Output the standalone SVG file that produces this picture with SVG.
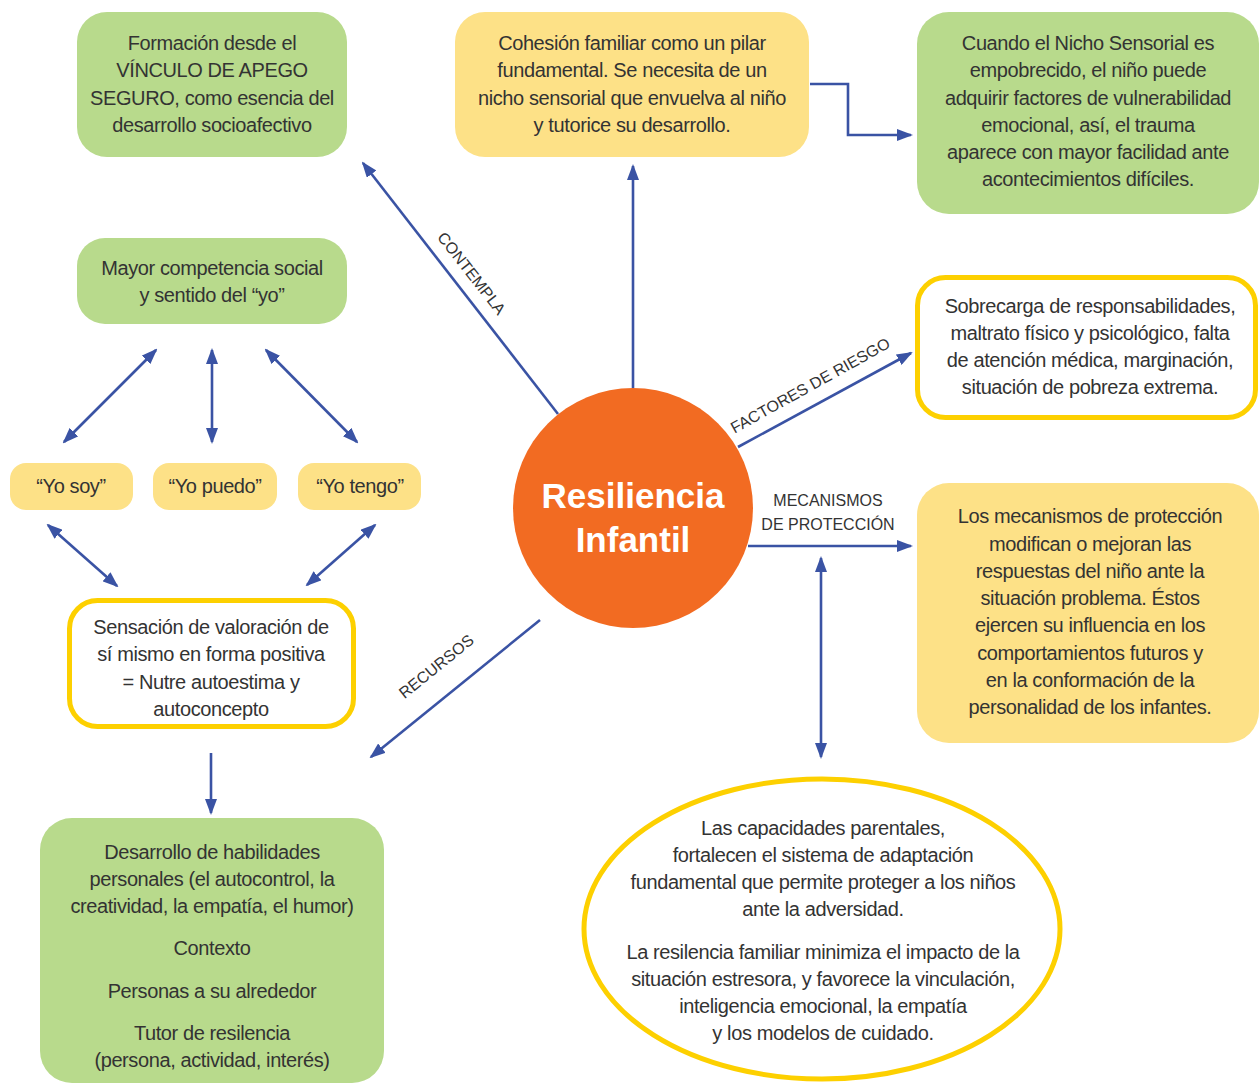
<svg xmlns="http://www.w3.org/2000/svg" width="1260" height="1083" viewBox="0 0 1260 1083">
  <style>
    .t { font-family: "Liberation Sans", Arial, sans-serif; font-size: 20px; letter-spacing: -0.4px; fill: #333333; text-anchor: middle; }
    .lbl { font-family: "Liberation Sans", Arial, sans-serif; font-size: 16px; fill: #333333; text-anchor: middle; }
    .green { fill: #b8da8c; }
    .yellow { fill: #fde187; }
    .outline { fill: #ffffff; stroke: #fdd000; stroke-width: 5; }
    .conn { stroke: #3a53a4; stroke-width: 2.6; fill: none; }
    .title { font-family: "Liberation Sans", Arial, sans-serif; font-size: 35px; font-weight: bold; fill: #ffffff; text-anchor: middle; }
  </style>
  <defs>
    <marker id="ah" viewBox="0 0 16 12" refX="14" refY="6" markerWidth="16" markerHeight="12" markerUnits="userSpaceOnUse" orient="auto-start-reverse">
      <path d="M0,0 L16,6 L0,12 z" fill="#3a53a4"/>
    </marker>
  </defs>
  <rect width="1260" height="1083" fill="#ffffff"/>

  <!-- connectors -->
  <g id="connectors">
    <line class="conn" x1="558" y1="414" x2="363" y2="163" marker-end="url(#ah)"/>
    <line class="conn" x1="633" y1="388" x2="633" y2="166" marker-end="url(#ah)"/>
    <polyline class="conn" points="810,84 848,84 848,135 911,135" marker-end="url(#ah)"/>
    <line class="conn" x1="738" y1="447" x2="911" y2="353" marker-end="url(#ah)"/>
    <line class="conn" x1="748" y1="546" x2="911" y2="546" marker-end="url(#ah)"/>
    <line class="conn" x1="821" y1="558" x2="821" y2="757" marker-start="url(#ah)" marker-end="url(#ah)"/>
    <line class="conn" x1="540" y1="620" x2="371" y2="757" marker-end="url(#ah)"/>
    <line class="conn" x1="211" y1="753" x2="211" y2="813" marker-end="url(#ah)"/>
    <line class="conn" x1="156" y1="350" x2="64" y2="442" marker-start="url(#ah)" marker-end="url(#ah)"/>
    <line class="conn" x1="212" y1="350" x2="212" y2="442" marker-start="url(#ah)" marker-end="url(#ah)"/>
    <line class="conn" x1="266" y1="350" x2="357" y2="442" marker-start="url(#ah)" marker-end="url(#ah)"/>
    <line class="conn" x1="48" y1="525" x2="117" y2="586" marker-start="url(#ah)" marker-end="url(#ah)"/>
    <line class="conn" x1="375" y1="525" x2="307" y2="585" marker-start="url(#ah)" marker-end="url(#ah)"/>

    <text class="lbl" transform="translate(472,273) rotate(52)" y="6">CONTEMPLA</text>
    <text class="lbl" transform="translate(810,385) rotate(-29)" y="6">FACTORES DE RIESGO</text>
    <text class="lbl" x="828" y="506">MECANISMOS</text>
    <text class="lbl" x="828" y="530">DE PROTECCIÓN</text>
    <text class="lbl" transform="translate(436,666) rotate(-39)" y="6">RECURSOS</text>
  </g>

  <!-- central node -->
  <g id="resiliencia">
    <circle cx="633" cy="508" r="120" fill="#f26b22"/>
    <text class="title" x="633" y="508">Resiliencia</text>
    <text class="title" x="633" y="552">Infantil</text>
  </g>

  <g id="vinculo">
    <rect class="green" x="77" y="12" width="270" height="145" rx="30"/>
    <text class="t" x="212" y="50">Formación desde el</text>
    <text class="t" x="212" y="77">VÍNCULO DE APEGO</text>
    <text class="t" x="212" y="105">SEGURO, como esencia del</text>
    <text class="t" x="212" y="132">desarrollo socioafectivo</text>
  </g>

  <g id="cohesion">
    <rect class="yellow" x="455" y="12" width="354" height="145" rx="30"/>
    <text class="t" x="632" y="50">Cohesión familiar como un pilar</text>
    <text class="t" x="632" y="77">fundamental. Se necesita de un</text>
    <text class="t" x="632" y="105">nicho sensorial que envuelva al niño</text>
    <text class="t" x="632" y="132">y tutorice su desarrollo.</text>
  </g>

  <g id="nicho">
    <rect class="green" x="917" y="12" width="342" height="202" rx="32"/>
    <text class="t" x="1088" y="50">Cuando el Nicho Sensorial es</text>
    <text class="t" x="1088" y="77">empobrecido, el niño puede</text>
    <text class="t" x="1088" y="105">adquirir factores de vulnerabilidad</text>
    <text class="t" x="1088" y="132">emocional, así, el trauma</text>
    <text class="t" x="1088" y="159">aparece con mayor facilidad ante</text>
    <text class="t" x="1088" y="186">acontecimientos difíciles.</text>
  </g>

  <g id="riesgo">
    <rect class="outline" x="917.5" y="277.5" width="338" height="140" rx="28"/>
    <text class="t" x="1090" y="313">Sobrecarga de responsabilidades,</text>
    <text class="t" x="1090" y="340">maltrato físico y psicológico, falta</text>
    <text class="t" x="1090" y="367">de atención médica, marginación,</text>
    <text class="t" x="1090" y="394">situación de pobreza extrema.</text>
  </g>

  <g id="mecanismos">
    <rect class="yellow" x="917" y="483" width="342" height="260" rx="32"/>
    <text class="t" x="1090" y="523">Los mecanismos de protección</text>
    <text class="t" x="1090" y="551">modifican o mejoran  las</text>
    <text class="t" x="1090" y="578">respuestas del niño ante la</text>
    <text class="t" x="1090" y="605">situación problema. Éstos</text>
    <text class="t" x="1090" y="632">ejercen su influencia en los</text>
    <text class="t" x="1090" y="660">comportamientos futuros y</text>
    <text class="t" x="1090" y="687">en la conformación de la</text>
    <text class="t" x="1090" y="714">personalidad de los infantes.</text>
  </g>

  <g id="parentales">
    <ellipse cx="822" cy="929" rx="238" ry="150" fill="#ffffff" stroke="#fdd000" stroke-width="5"/>
    <text class="t" x="823" y="835">Las capacidades parentales,</text>
    <text class="t" x="823" y="862">fortalecen el sistema de adaptación</text>
    <text class="t" x="823" y="889">fundamental que permite proteger a los niños</text>
    <text class="t" x="823" y="916">ante la adversidad.</text>
    <text class="t" x="823" y="959">La resilencia familiar minimiza el impacto de la</text>
    <text class="t" x="823" y="986">situación estresora, y favorece la vinculación,</text>
    <text class="t" x="823" y="1013">inteligencia emocional, la empatía</text>
    <text class="t" x="823" y="1040">y los modelos de cuidado.</text>
  </g>

  <g id="competencia">
    <rect class="green" x="77" y="238" width="270" height="86" rx="28"/>
    <text class="t" x="212" y="275">Mayor competencia social</text>
    <text class="t" x="212" y="302">y sentido del “yo”</text>
  </g>

  <g id="yo-soy">
    <rect class="yellow" x="10" y="463" width="123" height="47" rx="16"/>
    <text class="t" x="71" y="493">“Yo soy”</text>
  </g>
  <g id="yo-puedo">
    <rect class="yellow" x="153" y="463" width="124" height="47" rx="16"/>
    <text class="t" x="215" y="493">“Yo puedo”</text>
  </g>
  <g id="yo-tengo">
    <rect class="yellow" x="298" y="463" width="123" height="47" rx="16"/>
    <text class="t" x="360" y="493">“Yo tengo”</text>
  </g>

  <g id="valoracion">
    <rect class="outline" x="69.5" y="600.5" width="284" height="126" rx="28"/>
    <text class="t" x="211" y="634">Sensación de valoración de</text>
    <text class="t" x="211" y="661">sí mismo en forma positiva</text>
    <text class="t" x="211" y="689">= Nutre autoestima y</text>
    <text class="t" x="211" y="716">autoconcepto</text>
  </g>

  <g id="habilidades">
    <rect class="green" x="40" y="818" width="344" height="265" rx="32"/>
    <text class="t" x="212" y="859">Desarrollo de habilidades</text>
    <text class="t" x="212" y="886">personales (el autocontrol, la</text>
    <text class="t" x="212" y="913">creatividad, la empatía, el humor)</text>
    <text class="t" x="212" y="955">Contexto</text>
    <text class="t" x="212" y="998">Personas a su alrededor</text>
    <text class="t" x="212" y="1040">Tutor de resilencia</text>
    <text class="t" x="212" y="1067">(persona, actividad, interés)</text>
  </g>
</svg>
